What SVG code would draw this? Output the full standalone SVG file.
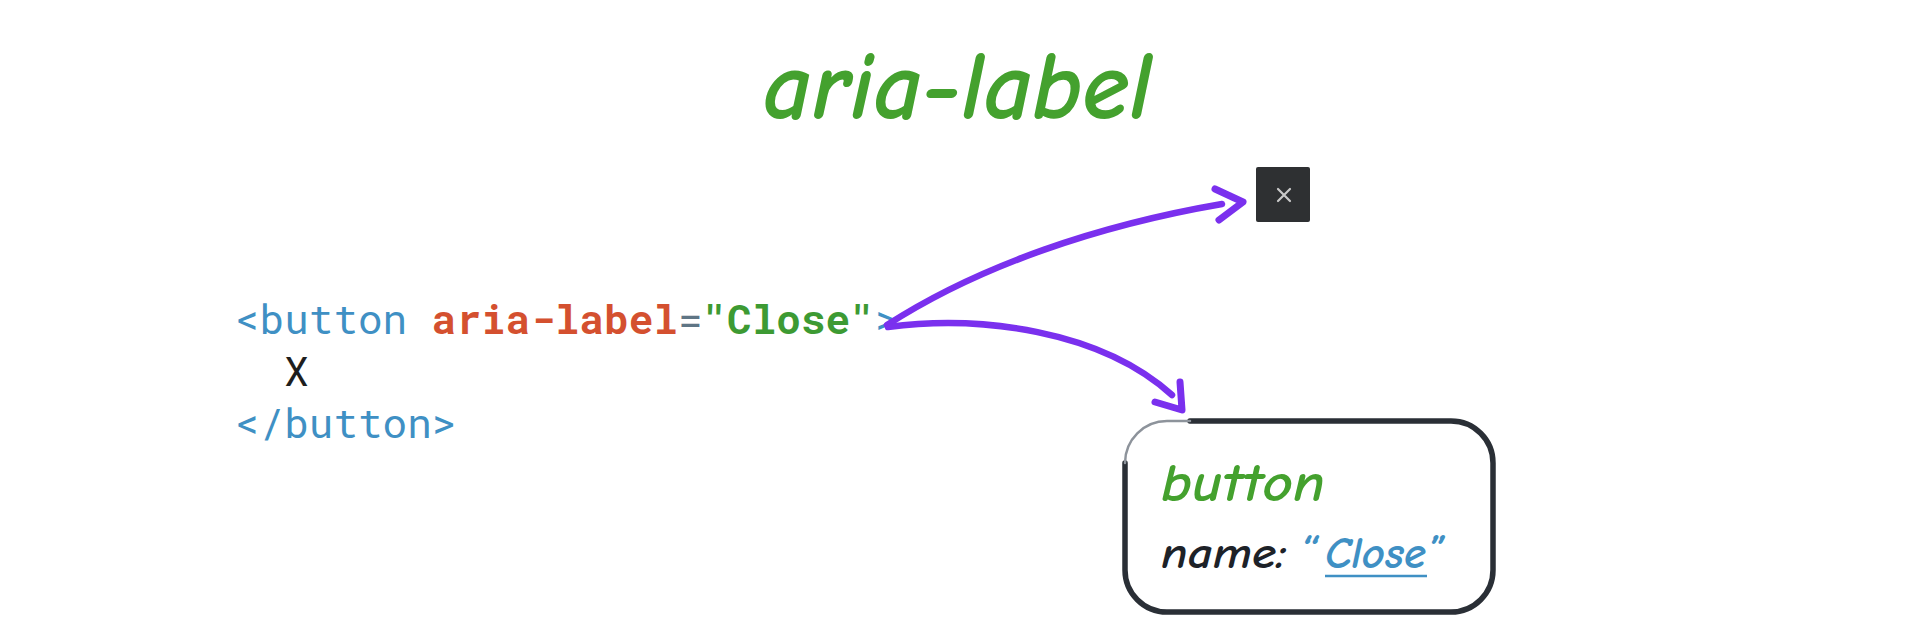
<svg xmlns="http://www.w3.org/2000/svg" width="1920" height="635" viewBox="0 0 1920 635">
  <style>
    .hand { font-family: "Comic Sans MS", "Comic Neue", Lato, "Noto Sans", sans-serif; font-style: italic; font-weight: bold; }
    .code { font-family: "Roboto Mono", "DejaVu Sans Mono", "Liberation Mono", monospace; font-size: 41px; }
    .tag { fill: #3f90c4; }
    .attr { fill: #d4502f; font-weight: bold; }
    .eq { fill: #5f7585; }
    .val { fill: #3d9a33; font-weight: bold; }
    .arrow { fill: none; stroke: #7a30ee; stroke-linecap: round; stroke-linejoin: round; }
  </style>
  <rect width="1920" height="635" fill="#ffffff"/>

  <g id="title">
    <text class="hand" x="763" y="118" font-size="96" fill="#44a12e" textLength="389" lengthAdjust="spacingAndGlyphs">aria-label</text>
  </g>

  <g id="code">
    <text class="code" x="235" y="334" xml:space="preserve"><tspan class="tag">&lt;button </tspan><tspan class="attr">aria-label</tspan><tspan class="eq">=</tspan><tspan class="val">"Close"</tspan><tspan class="tag">&gt;</tspan></text>
    <text class="code" x="284" y="386" fill="#1e1e1e">X</text>
    <text class="code tag" x="235" y="438">&lt;/button&gt;</text>
  </g>

  <g id="close-button">
    <rect x="1256" y="167" width="54" height="55" rx="2" fill="#2e3032"/>
    <path d="M1278 189 L1290 201 M1290 189 L1278 201" stroke="#c9c9c9" stroke-width="2.2" stroke-linecap="round"/>
  </g>

  <g id="accessibility-node">
    <path d="M1190 421 H1451 A42 42 0 0 1 1493 463 V570 A42 42 0 0 1 1451 612 H1167 A42 42 0 0 1 1125 570 V463" fill="none" stroke="#2a2f36" stroke-width="5.5" stroke-linecap="round"/>
    <path d="M1125 463 A42 42 0 0 1 1167 421 H1190" fill="none" stroke="#8d939b" stroke-width="2.5" stroke-linecap="round"/>
    <text class="hand" x="1161" y="501" font-size="54" fill="#44a12e" textLength="164" lengthAdjust="spacingAndGlyphs">button</text>
    <text class="hand" x="1161" y="568" font-size="44" fill="#1d2228" textLength="125" lengthAdjust="spacingAndGlyphs">name:</text>
    <text class="hand" x="1300" y="568" font-size="44" fill="#3f90c4">“</text>
    <text class="hand" x="1325" y="568" font-size="44" fill="#3f90c4" textLength="101" lengthAdjust="spacingAndGlyphs">Close</text>
    <text class="hand" x="1428" y="568" font-size="44" fill="#3f90c4">”</text>
    <line x1="1325" y1="576" x2="1427" y2="576" stroke="#3f90c4" stroke-width="2.5"/>
  </g>

  <g id="connectors">
    <path class="arrow" d="M887 325 C980 265 1100 225 1222 204" stroke-width="6.5"/>
    <path class="arrow" d="M1215 189 L1243 202 L1219 220" stroke-width="7"/>
    <path class="arrow" d="M888 327 C980 315 1100 330 1172 395" stroke-width="6.5"/>
    <path class="arrow" d="M1180 382 L1182 410 L1155 402" stroke-width="7"/>
  </g>
</svg>
